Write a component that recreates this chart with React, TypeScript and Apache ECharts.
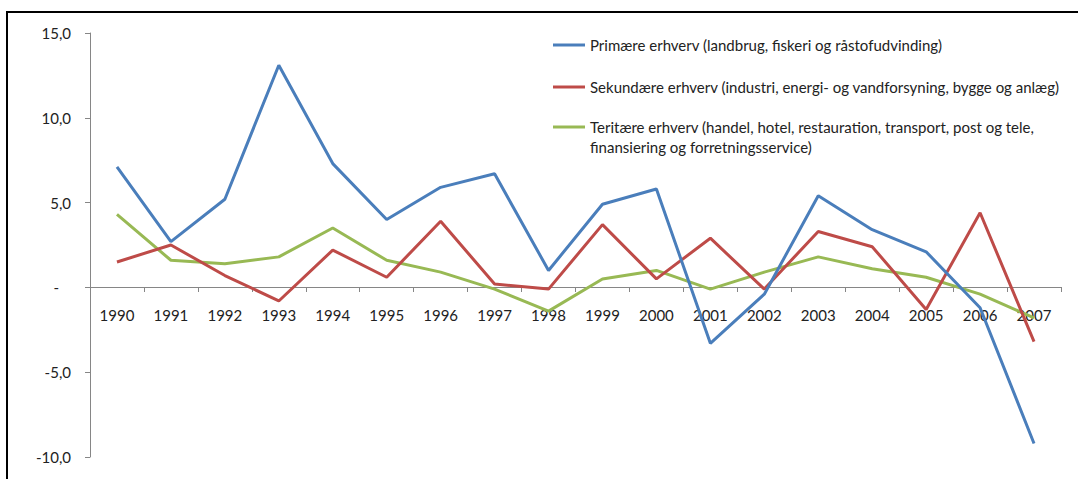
import React, { useEffect, useRef } from "react";
import * as echarts from "echarts";

const years = ["1990","1991","1992","1993","1994","1995","1996","1997","1998","1999","2000","2001","2002","2003","2004","2005","2006","2007"];
const primaer = [7.1, 2.7, 5.2, 13.1, 7.3, 4.0, 5.9, 6.7, 1.0, 4.9, 5.8, -3.3, -0.4, 5.4, 3.4, 2.1, -1.2, -9.2];
const sekundaer = [1.5, 2.5, 0.7, -0.8, 2.2, 0.6, 3.9, 0.2, -0.1, 3.7, 0.5, 2.9, -0.1, 3.3, 2.4, -1.3, 4.4, -3.2];
const tertiaer = [4.3, 1.6, 1.4, 1.8, 3.5, 1.6, 0.9, -0.1, -1.4, 0.5, 1.0, -0.1, 0.9, 1.8, 1.1, 0.6, -0.4, -1.8];

const names = [
  "Primære erhverv (landbrug, fiskeri og råstofudvinding)",
  "Sekundære erhverv (industri, energi- og vandforsyning, bygge og anlæg)",
  "Teritære erhverv (handel, hotel, restauration, transport, post og tele, finansiering og forretningsservice)",
];
const colors = ["#4a7ebb", "#be4b48", "#98b954"];

const FONT = "Lato";

export default function App() {
  const ref = useRef<HTMLDivElement>(null);
  useEffect(() => {
    const chart = echarts.init(ref.current!, null, { renderer: "svg" });
    const legendBase = {
      left: 553,
      orient: "vertical" as const,
      itemWidth: 32,
      itemHeight: 3,
      icon: "rect",
      padding: 0,
      selectedMode: false,
      textStyle: { fontFamily: FONT, fontSize: 15, color: "#222", lineHeight: 20 },
    };
    chart.setOption({
      animation: false,
      backgroundColor: "#fff",
      grid: { left: 90, right: 17, top: 33, bottom: 22, containLabel: false, outerBoundsMode: "none" },
      legend: [
        { ...legendBase, top: 35, data: [names[0]] },
        { ...legendBase, top: 77, data: [names[1]] },
        {
          ...legendBase,
          top: 97,
          data: [names[2]],
          formatter: (n: string) => "\n" + n.replace(" tele, ", " tele,\n"),
        },
      ],
      xAxis: {
        type: "category",
        data: years,
        boundaryGap: true,
        offset: -170,
        axisLine: { onZero: false, lineStyle: { color: "#868686", width: 1 } },
        axisTick: { show: true, length: 5, lineStyle: { color: "#868686" } },
        axisLabel: { fontFamily: FONT, fontSize: 15, color: "#222", margin: 20, interval: 0 },
      },
      yAxis: {
        type: "value",
        min: -10,
        max: 15,
        interval: 5,
        splitLine: { show: false },
        axisLine: { show: true, lineStyle: { color: "#868686", width: 1 } },
        axisTick: { show: true, length: 5, lineStyle: { color: "#868686" } },
        axisLabel: {
          fontFamily: FONT,
          fontSize: 15,
          color: "#222",
          margin: 19,
          formatter: (v: number) => (v === 0 ? "{z|-}" : v.toFixed(1).replace(".", ",")),
          rich: { z: { fontFamily: FONT, fontSize: 15, color: "#222", padding: [0, 12, 0, 0] } },
        },
      },
      series: [primaer, sekundaer, tertiaer].map((d, i) => ({
        name: names[i],
        type: "line",
        data: d,
        color: colors[i],
        symbol: "none",
        lineStyle: { width: 3, color: colors[i] },
        z: 3 - i,
      })),
      graphic: [
        { type: "rect", shape: { x: 6, y: 11, width: 1080, height: 2 }, style: { fill: "#000" } },
        { type: "rect", shape: { x: 6, y: 11, width: 2, height: 480 }, style: { fill: "#000" } },
      ],
    });
    return () => chart.dispose();
  }, []);
  return <div ref={ref} style={{ position: "fixed", left: 0, top: 0, width: 1078, height: 479 }} />;
}
